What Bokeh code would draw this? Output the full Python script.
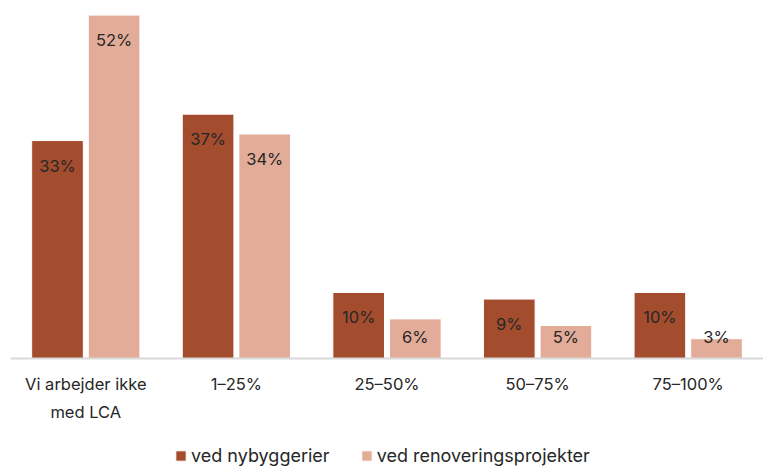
import numpy as np
from bokeh.plotting import figure
from bokeh.models import ColumnDataSource, FactorRange, Range1d, Legend, LegendItem, Span
from bokeh.transform import dodge
from bokeh.core.properties import value
from bokeh.embed import file_html
from bokeh.resources import INLINE

categories = ["Vi arbejder ikke\nmed LCA", "1–25%", "25–50%", "50–75%", "75–100%"]
nybyggerier = [33, 37, 10, 9, 10]
renovering = [52, 34, 6, 5, 3]
series_names = ["ved nybyggerier", "ved renoveringsprojekter"]

DARK = "#A44D2E"
LIGHT = "#E3AC98"
FONT = "Inter"
TEXT = "#262626"

Y_TOP = 53.0
BAR_PX = 350.0            # pixels from baseline to Y_TOP
FRAME_H = 458
px = BAR_PX / Y_TOP       # pixels per percentage point
y_start = Y_TOP - FRAME_H / px

ny = np.array(nybyggerier, dtype=float)
re = np.array(renovering, dtype=float)

src = ColumnDataSource(dict(
    cat=categories,
    ny=ny, re=re,
    ny_lbl=[f"{v:.0f}%" for v in ny],
    re_lbl=[f"{v:.0f}%" for v in re],
    ny_y=np.maximum(ny - 25 / px, 22 / px),
    re_y=np.maximum(re - 25 / px, 22 / px),
    cat_y=np.full(len(categories), -15 / px),
))

p = figure(x_range=FactorRange(*categories, range_padding=0),
           y_range=Range1d(y_start, Y_TOP),
           frame_width=753, frame_height=FRAME_H,
           output_backend="svg", toolbar_location=None,
           min_border_left=10, min_border_right=0, min_border_top=8,
           min_border_bottom=0)
p.outline_line_color = None
p.grid.grid_line_color = None
p.xaxis.visible = False
p.yaxis.visible = False

off = 0.188
w = 0.343
r1 = p.vbar(x=dodge("cat", -off, range=p.x_range), top="ny", width=w, source=src,
            fill_color=DARK, line_color="white", line_width=1)
r2 = p.vbar(x=dodge("cat", off, range=p.x_range), top="re", width=w, source=src,
            fill_color=LIGHT, line_color="white", line_width=1)

p.add_layout(Span(location=0, dimension="width", line_color="#D9D9D9", line_width=2))

p.text(x=dodge("cat", -off, range=p.x_range), y="ny_y", text="ny_lbl", source=src,
       text_align="center", text_baseline="middle", text_font=value(FONT),
       text_font_size="16.5px", text_color=TEXT)
p.text(x=dodge("cat", off, range=p.x_range), y="re_y", text="re_lbl", source=src,
       text_align="center", text_baseline="middle", text_font=value(FONT),
       text_font_size="16.5px", text_color=TEXT)

# category labels under the baseline
p.text(x="cat", y="cat_y", text="cat", source=src,
       text_align="center", text_baseline="top", text_font=value(FONT),
       text_font_size="16.5px", text_color=TEXT, text_line_height=1.4)

legend = Legend(items=[LegendItem(label=series_names[0], renderers=[r1]),
                       LegendItem(label=series_names[1], renderers=[r2])],
                orientation="horizontal", location=(164, 0),
                label_text_font=FONT, label_text_font_size="18px",
                label_text_color=TEXT, label_height=18,
                glyph_width=13, glyph_height=13, label_standoff=4, spacing=30,
                border_line_color=None, background_fill_alpha=0,
                padding=0, margin=0)
p.add_layout(legend, "center")

open("out.html", "w").write(file_html(p, INLINE))
